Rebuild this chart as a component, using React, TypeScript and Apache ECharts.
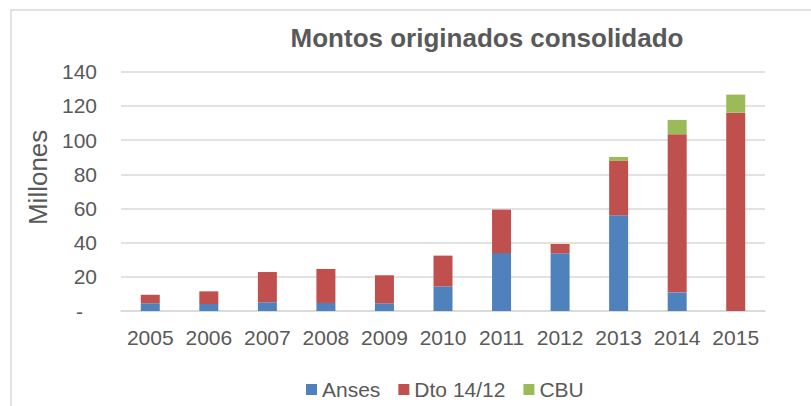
import React, { useEffect, useRef } from "react";
import * as echarts from "echarts";

const years = ["2005", "2006", "2007", "2008", "2009", "2010", "2011", "2012", "2013", "2014", "2015"];
const anses = [4.5, 4.1, 5.1, 4.7, 4.5, 14.4, 33.9, 33.8, 56.0, 10.9, 0];
const dto = [5.0, 7.4, 17.7, 19.9, 16.4, 18.0, 25.4, 5.4, 31.8, 92.5, 116.0];
const cbu = [0, 0, 0, 0, 0, 0, 0, 0, 2.3, 8.4, 10.6];
const seriesNames = ["Anses", "Dto 14/12", "CBU"];
const colors = ["#4F81BD", "#C0504D", "#9BBB59"];

const FONT = "Liberation Sans, Arial, sans-serif";
const TEXT = "#595959";

export default function App() {
  const ref = useRef<HTMLDivElement>(null);
  useEffect(() => {
    document.body.style.margin = "0";
    if (!ref.current) return;
    const chart = echarts.init(ref.current, null, { renderer: "svg" });
    const values = [anses, dto, cbu];
    chart.setOption({
      animation: false,
      backgroundColor: "#ffffff",
      textStyle: { fontFamily: FONT },
      title: {
        text: "Montos originados consolidado",
        left: 487,
        top: 25,
        textAlign: "center",
        padding: 0,
        textStyle: { fontFamily: FONT, fontSize: 26, fontWeight: "bold", color: TEXT },
      },
      graphic: [
        {
          type: "rect",
          z: -10,
          silent: true,
          shape: { x: 11, y: 10, width: 1000, height: 600 },
          style: { fill: "none", stroke: "#d9d9d9", lineWidth: 1.5 },
        },
      ],
      legend: {
        data: seriesNames,
        left: 306,
        top: 379,
        padding: 0,
        icon: "rect",
        itemWidth: 11,
        itemHeight: 11,
        itemGap: 18,
        textStyle: { fontFamily: FONT, fontSize: 21, color: TEXT, padding: [0, 0, 0, 0] },
      },
      grid: { left: 121, right: 46, top: 71.7, bottom: 95, containLabel: false },
      xAxis: {
        type: "category",
        data: years,
        axisTick: { show: false },
        axisLine: { lineStyle: { color: "#d9d9d9", width: 1.5 } },
        axisLabel: { fontFamily: FONT, fontSize: 21, color: TEXT, margin: 16, interval: 0 },
      },
      yAxis: {
        type: "value",
        min: 0,
        max: 140,
        interval: 20,
        name: "Millones",
        nameLocation: "middle",
        nameRotate: 90,
        nameGap: 70,
        nameTextStyle: { fontFamily: FONT, fontSize: 26, color: TEXT, padding: [0, 0, 0, 28] },
        axisLine: { show: false },
        axisTick: { show: false },
        splitLine: { lineStyle: { color: "#d9d9d9", width: 1.5 } },
        axisLabel: {
          fontFamily: FONT,
          fontSize: 21,
          color: TEXT,
          margin: 24,
          formatter: (v: number) => (v === 0 ? "{z|-}" : String(v)),
          rich: { z: { fontFamily: FONT, fontSize: 21, color: TEXT, padding: [0, 14, 0, 0] } },
        },
      },
      series: seriesNames.map((name, i) => ({
        name,
        type: "bar",
        stack: "total",
        barWidth: 19,
        itemStyle: { color: colors[i] },
        data: values[i],
      })),
    });
    return () => chart.dispose();
  }, []);
  return <div ref={ref} style={{ width: 811, height: 406 }} />;
}
